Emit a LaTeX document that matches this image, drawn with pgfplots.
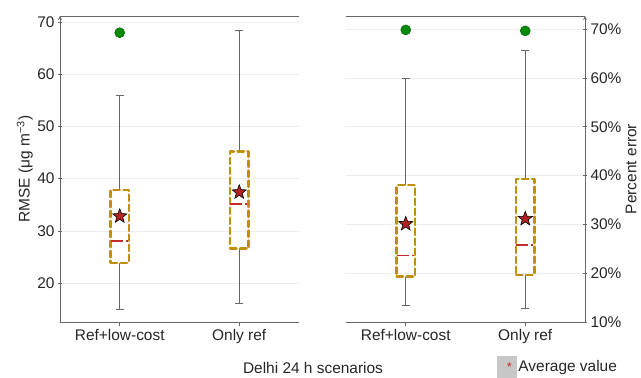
\documentclass[border=0pt]{standalone}
\usepackage{fontspec}
\setmainfont{Liberation Sans}
\usepackage{pgfplots}
\pgfplotsset{compat=1.18}

\definecolor{boxgold}{HTML}{C18F0B}
\definecolor{medred}{HTML}{C62B2B}
\definecolor{starred}{HTML}{B22222}
\definecolor{outgreen}{HTML}{0A8A0A}
\definecolor{axgray}{HTML}{666666}

\newcommand{\lblfont}{\fontsize{15.5}{18}\selectfont}

\pgfdeclareplotmark{fstar}{%
  \pgfpathmoveto{\pgfpointpolar{90}{\pgfplotmarksize}}%
  \pgfpathlineto{\pgfpointpolar{126}{0.42\pgfplotmarksize}}%
  \pgfpathlineto{\pgfpointpolar{162}{\pgfplotmarksize}}%
  \pgfpathlineto{\pgfpointpolar{198}{0.42\pgfplotmarksize}}%
  \pgfpathlineto{\pgfpointpolar{234}{\pgfplotmarksize}}%
  \pgfpathlineto{\pgfpointpolar{270}{0.42\pgfplotmarksize}}%
  \pgfpathlineto{\pgfpointpolar{306}{\pgfplotmarksize}}%
  \pgfpathlineto{\pgfpointpolar{342}{0.42\pgfplotmarksize}}%
  \pgfpathlineto{\pgfpointpolar{18}{\pgfplotmarksize}}%
  \pgfpathlineto{\pgfpointpolar{54}{0.42\pgfplotmarksize}}%
  \pgfpathclose
  \pgfusepathqfillstroke
}

\pgfplotsset{
  myax/.style={
    scale only axis, width=239bp, height=306bp,
    xmin=0.5, xmax=2.5,
    xtick={1,2}, xticklabels={Ref+low-cost, Only ref},
    axis line style={axgray, line width=0.8pt, -},
    tick style={axgray, line width=0.6pt},
    tick align=outside, major tick length=4bp,
    ymajorgrids, major grid style={black!7, line width=0.6pt},
    ticklabel style={font=\lblfont, text=black!85},
    /pgf/number format/assume math mode=true,
    xtick pos=left,
    clip=false,
  },
  boxst/.style={boxgold, solid, dash pattern=on 6.5bp off 3.5bp, line width=2.3pt, line cap=round, line join=round, forget plot, mark=none},
  whst/.style={axgray, solid, line width=0.8pt, forget plot, mark=none},
  medst/.style={medred, solid, dash pattern=on 12bp off 3bp on 2bp off 50bp, line width=1.7pt, forget plot, mark=none},
  outl/.style={only marks, mark=*, mark size=5bp, mark options={fill=outgreen, draw=black!60!green, line width=0.5pt}, forget plot},
  mn/.style={only marks, mark=fstar, mark size=7.5bp, mark options={fill=starred, draw=black, line width=0.6pt}, forget plot},
}

\begin{document}
\begin{tikzpicture}
\begin{axis}[myax,
  at={(0,0)}, anchor=south west,
  axis x line=box, axis y line=left,
  ymin=12.53, ymax=71.15,
  ytick={20,30,40,50,60,70},
  ylabel={RMSE (μg m\textsuperscript{−3})},
  ylabel style={at={(axis description cs:-0.147,0.5)}, anchor=center, font=\lblfont, text=black!85},
  xlabel={Delhi 24 h scenarios},
  xlabel style={at={(axis description cs:1.0586,-0.150)}, anchor=center, font=\lblfont, text=black!85},
]
% Ref+low-cost
\addplot[whst] coordinates {(1,15.0) (1,23.9)};
\addplot[whst] coordinates {(1,37.8) (1,56.0)};
\addplot[whst] coordinates {(0.966,15.0) (1.034,15.0)};
\addplot[whst] coordinates {(0.966,56.0) (1.034,56.0)};
\addplot[boxst] coordinates {(0.923,23.9) (1.077,23.9) (1.077,37.8) (0.923,37.8) (0.923,23.9)};
\addplot[medst] coordinates {(0.923,28.1) (1.077,28.1)};
% Only ref
\addplot[whst] coordinates {(2,16.0) (2,26.6)};
\addplot[whst] coordinates {(2,45.2) (2,68.4)};
\addplot[whst] coordinates {(1.966,16.0) (2.034,16.0)};
\addplot[whst] coordinates {(1.966,68.4) (2.034,68.4)};
\addplot[boxst] coordinates {(1.923,26.6) (2.077,26.6) (2.077,45.2) (1.923,45.2) (1.923,26.6)};
\addplot[medst] coordinates {(1.923,35.1) (2.077,35.1)};
% outliers and means
\addplot[outl] coordinates {(1,67.95)};
\addplot[mn] coordinates {(1,32.8) (2,37.4)};
\end{axis}

\begin{axis}[myax,
  at={(286bp,0)}, anchor=south west,
  axis x line=box, axis y line=right,
  ymin=10, ymax=72.7,
  ytick={10,20,30,40,50,60,70},
  yticklabel={\pgfmathprintnumber{\tick}\%},
  ylabel={Percent error},
  ylabel style={at={(axis description cs:1.193,0.5)}, anchor=center, font=\lblfont, text=black!85},
  legend style={at={(axis description cs:0.632,-0.147)}, anchor=west, draw=none, fill=none,
    font=\lblfont, inner sep=0pt, outer sep=0pt, text=black!85},
  legend cell align=left,
]
\addlegendimage{legend image code/.code={\fill[black!22] (0bp,-10.5bp) rectangle (19bp,10.5bp); \node[text=medred, font=\fontsize{13}{14}\selectfont, inner sep=0pt] at (9.5bp,-1bp) {*};}}
\addlegendentry{Average value}
% Ref+low-cost
\addplot[whst] coordinates {(1,13.5) (1,19.3)};
\addplot[whst] coordinates {(1,38.0) (1,60.0)};
\addplot[whst] coordinates {(0.966,13.5) (1.034,13.5)};
\addplot[whst] coordinates {(0.966,60.0) (1.034,60.0)};
\addplot[boxst] coordinates {(0.923,19.3) (1.077,19.3) (1.077,38.0) (0.923,38.0) (0.923,19.3)};
\addplot[medst] coordinates {(0.923,23.6) (1.077,23.6)};
% Only ref
\addplot[whst] coordinates {(2,12.7) (2,19.7)};
\addplot[whst] coordinates {(2,39.3) (2,65.6)};
\addplot[whst] coordinates {(1.966,12.7) (2.034,12.7)};
\addplot[whst] coordinates {(1.966,65.6) (2.034,65.6)};
\addplot[boxst] coordinates {(1.923,19.7) (2.077,19.7) (2.077,39.3) (1.923,39.3) (1.923,19.7)};
\addplot[medst] coordinates {(1.923,25.8) (2.077,25.8)};
% outliers and means
\addplot[outl] coordinates {(1,69.85) (2,69.65)};
\addplot[mn] coordinates {(1,30.1) (2,31.15)};
\end{axis}
\pgfresetboundingbox
\path[use as bounding box] (-60bp,-56bp) rectangle (581bp,322bp);
\end{tikzpicture}
\end{document}
